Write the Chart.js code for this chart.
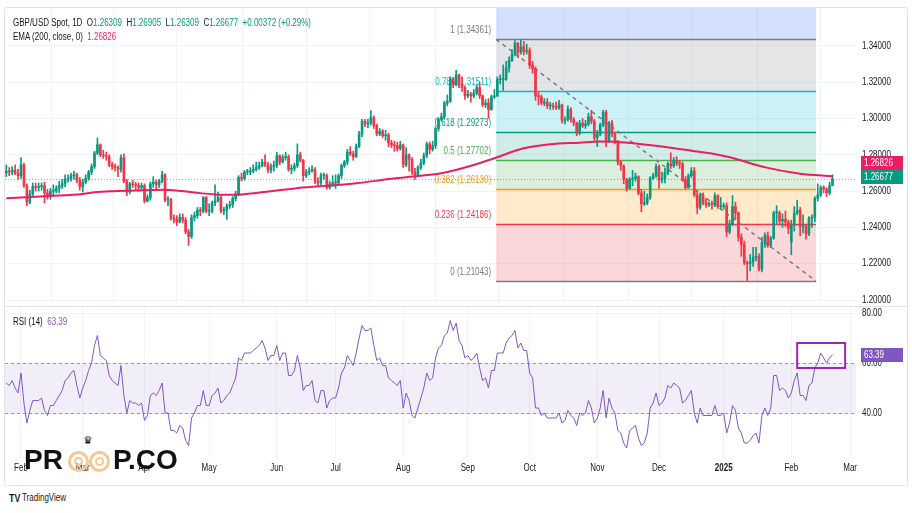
<!DOCTYPE html>
<html>
<head>
<meta charset="utf-8">
<script src="https://cdn.jsdelivr.net/npm/chart.js@4.4.1/dist/chart.umd.min.js"></script>
<style>
  body { margin: 0; width: 912px; height: 513px; overflow: hidden; position: relative; background: #fff;
         font-family: 'Liberation Sans', Arial, sans-serif; color: #131722; }
  canvas { position: absolute; left: 0; }
  #main { top: 0; }
  #rsi { top: 306px; }
  .txt { position: absolute; font-size: 10px; line-height: 12px; white-space: pre; transform: scaleX(0.8); transform-origin: 0 0; }
  .g { color: #089981; }
  .p { color: #e91e63; }
  .v { color: #7e57c2; }
  #frame { position: absolute; left: 4px; top: 7px; width: 902px; height: 477px; border: 1px solid #e0e3eb; border-radius: 3px; pointer-events: none; }
  .logo { position: absolute; top: 446px; font: bold 28px 'Liberation Sans', sans-serif; line-height: 28px; color: #111; }
  .eye { position: absolute; top: 451px; width: 15px; height: 15px; border: 3px solid #f3c98f; border-radius: 50%; }
  .eye::after { content: ''; position: absolute; left: 3px; top: 3px; width: 5px; height: 5px; border: 2px solid #f3c98f; border-radius: 50%; }
</style>
</head>
<body>
<canvas id="main" width="912" height="306"></canvas>
<canvas id="rsi" width="912" height="180"></canvas>
<div id="frame"></div>

<div class="txt" style="left:13px;top:17px">GBP/USD Spot, 1D  O<span class="g">1.26309</span>  H<span class="g">1.26905</span>  L<span class="g">1.26309</span>  C<span class="g">1.26677</span>  <span class="g">+0.00372 (+0.29%)</span></div>
<div class="txt" style="left:13px;top:31px">EMA (200, close, 0)  <span class="p">1.26826</span></div>
<div class="txt" style="left:13px;top:316px">RSI (14)  <span class="v">63.39</span></div>

<div class="logo" style="left:24px">PR</div>
<div class="eye" style="left:68px"></div>
<div class="eye" style="left:89px"></div>
<div class="txt" style="left:83px;top:434px;font-size:11px;color:#111;transform:none">♛</div>
<div class="logo" style="left:113px">P.CO</div>

<div class="txt" style="left:9px;top:492px;font-weight:bold;font-size:11px">TV</div>
<div class="txt" style="left:22px;top:492px">TradingView</div>

<script>
const FONT = "'Liberation Sans', Arial, sans-serif";
const SX = 0.8; // the reference text is horizontally narrow

// bar index 0 = 1 Feb 2024, one step per trading day; first bar is 25 Jan 2024
const firstBar = -5;

const opens = [
  1.2700, 1.2710, 1.2705, 1.2715, 1.2700,
  1.2685, 1.2745, 1.2630, 1.2540, 1.2585, 1.2625, 1.2620, 1.2625, 1.2630, 1.2590, 1.2570, 1.2600, 1.2600, 1.2615, 1.2630, 1.2640, 1.2665, 1.2670, 1.2685, 1.2690, 1.2660,
  1.2625, 1.2650, 1.2670, 1.2705, 1.2735, 1.2810, 1.2855, 1.2800, 1.2795, 1.2790, 1.2745, 1.2735, 1.2730, 1.2720, 1.2785, 1.2655, 1.2595, 1.2640, 1.2635, 1.2630, 1.2620,
  1.2630, 1.2545, 1.2565, 1.2640, 1.2650, 1.2635, 1.2655, 1.2690, 1.2550, 1.2555, 1.2450, 1.2445, 1.2430, 1.2455, 1.2440, 1.2375, 1.2350, 1.2455, 1.2465, 1.2495, 1.2490, 1.2565,
  1.2490, 1.2490, 1.2535, 1.2545, 1.2565, 1.2490, 1.2495, 1.2520, 1.2525, 1.2560, 1.2585, 1.2675, 1.2670, 1.2705, 1.2705, 1.2710, 1.2720, 1.2730, 1.2740, 1.2760, 1.2745, 1.2715, 1.2735,
  1.2740, 1.2795, 1.2760, 1.2785, 1.2790, 1.2720, 1.2725, 1.2740, 1.2800, 1.2770, 1.2685, 1.2705, 1.2710, 1.2720, 1.2655, 1.2645, 1.2685, 1.2685, 1.2620, 1.2640,
  1.2645, 1.2645, 1.2685, 1.2740, 1.2760, 1.2815, 1.2805, 1.2790, 1.2845, 1.2915, 1.2985, 1.2970, 1.2975, 1.3005, 1.2960, 1.2915, 1.2930, 1.2905, 1.2910, 1.2865, 1.2855, 1.2850, 1.2835,
  1.2855, 1.2745, 1.2800, 1.2775, 1.2705, 1.2690, 1.2730, 1.2755, 1.2795, 1.2860, 1.2830, 1.2850, 1.2945, 1.2995, 1.3010, 1.3085, 1.3095, 1.3215, 1.3185, 1.3240, 1.3185, 1.3170,
  1.3125, 1.3135, 1.3125, 1.3140, 1.3170, 1.3125, 1.3075, 1.3085, 1.3050, 1.3120, 1.3125, 1.3215, 1.3215, 1.3215, 1.3280, 1.3320, 1.3355, 1.3415, 1.3365, 1.3395, 1.3370,
  1.3375, 1.3295, 1.3275, 1.3125, 1.3120, 1.3085, 1.3090, 1.3070, 1.3070, 1.3065, 1.3060, 1.3075, 1.2990, 1.2995, 1.3050, 1.2995, 1.2975, 1.2920, 1.2975, 1.2960, 1.2970, 1.3010, 1.2985,
  1.2895, 1.2915, 1.2965, 1.3035, 1.2880, 1.2975, 1.2915, 1.2875, 1.2760, 1.2740, 1.2665, 1.2615, 1.2665, 1.2670, 1.2680, 1.2590, 1.2530, 1.2535, 1.2565, 1.2670, 1.2685,
  1.2735, 1.2660, 1.2670, 1.2700, 1.2750, 1.2740, 1.2770, 1.2755, 1.2750, 1.2665, 1.2620, 1.2685, 1.2710, 1.2580, 1.2510, 1.2575, 1.2535, 1.2525, 1.2530, 1.2525, 1.2575, 1.2515,
  1.2515, 1.2520, 1.2375, 1.2420, 1.2515, 1.2480, 1.2345, 1.2305, 1.2205, 1.2200, 1.2210, 1.2235, 1.2240, 1.2170, 1.2315, 1.2355, 1.2300, 1.2340, 1.2480, 1.2480, 1.2435, 1.2445, 1.2430,
  1.2320, 1.2410, 1.2480, 1.2495, 1.2405, 1.2405, 1.2365, 1.2450, 1.2455, 1.2560, 1.2580, 1.2620, 1.2610, 1.2590, 1.26309
];
const highs = [
  1.2745, 1.2730, 1.2735, 1.2745, 1.2720,
  1.2785, 1.2755, 1.2640, 1.2605, 1.2645, 1.2645, 1.2645, 1.2645, 1.2650, 1.2610, 1.2615, 1.2635, 1.2630, 1.2655, 1.2665, 1.2690, 1.2690, 1.2700, 1.2710, 1.2700, 1.2675,
  1.2665, 1.2690, 1.2715, 1.2750, 1.2820, 1.2893, 1.2860, 1.2825, 1.2815, 1.2800, 1.2760, 1.2750, 1.2740, 1.2800, 1.2805, 1.2665, 1.2650, 1.2660, 1.2650, 1.2645, 1.2645,
  1.2640, 1.2580, 1.2650, 1.2680, 1.2660, 1.2665, 1.2709, 1.2695, 1.2570, 1.2560, 1.2470, 1.2465, 1.2475, 1.2475, 1.2455, 1.2390, 1.2470, 1.2485, 1.2510, 1.2510, 1.2570, 1.2570,
  1.2530, 1.2545, 1.2634, 1.2595, 1.2575, 1.2510, 1.2530, 1.2545, 1.2570, 1.2600, 1.2685, 1.2700, 1.2715, 1.2720, 1.2730, 1.2745, 1.2760, 1.2760, 1.2775, 1.2800, 1.2760, 1.2750, 1.2765,
  1.2815, 1.2800, 1.2800, 1.2815, 1.2800, 1.2745, 1.2755, 1.2860, 1.2815, 1.2775, 1.2720, 1.2730, 1.2740, 1.2730, 1.2675, 1.2700, 1.2700, 1.2695, 1.2655, 1.2685,
  1.2690, 1.2695, 1.2750, 1.2770, 1.2830, 1.2845, 1.2820, 1.2860, 1.2930, 1.2995, 1.2995, 1.2995, 1.3044, 1.3015, 1.2970, 1.2945, 1.2940, 1.2935, 1.2920, 1.2880, 1.2875, 1.2870, 1.2875,
  1.2860, 1.2840, 1.2805, 1.2785, 1.2725, 1.2740, 1.2775, 1.2810, 1.2870, 1.2870, 1.2875, 1.2955, 1.3005, 1.3030, 1.3095, 1.3130, 1.3230, 1.3225, 1.3266, 1.3245, 1.3230, 1.3180,
  1.3155, 1.3145, 1.3160, 1.3185, 1.3200, 1.3130, 1.3105, 1.3110, 1.3130, 1.3160, 1.3230, 1.3240, 1.3295, 1.3315, 1.3340, 1.3380, 1.3430, 1.3420, 1.3436, 1.3425, 1.3410,
  1.3390, 1.3315, 1.3285, 1.3145, 1.3130, 1.3110, 1.3110, 1.3090, 1.3085, 1.3090, 1.3100, 1.3080, 1.3010, 1.3070, 1.3060, 1.3005, 1.2980, 1.2990, 1.3000, 1.2990, 1.3030, 1.3045, 1.2995,
  1.2935, 1.2975, 1.3045, 1.3045, 1.2985, 1.2990, 1.2925, 1.2880, 1.2770, 1.2745, 1.2670, 1.2675, 1.2715, 1.2700, 1.2685, 1.2610, 1.2600, 1.2585, 1.2680, 1.2700, 1.2750,
  1.2745, 1.2705, 1.2725, 1.2760, 1.2811, 1.2785, 1.2790, 1.2770, 1.2760, 1.2680, 1.2695, 1.2730, 1.2730, 1.2605, 1.2590, 1.2590, 1.2560, 1.2540, 1.2545, 1.2590, 1.2580, 1.2565,
  1.2535, 1.2535, 1.2440, 1.2575, 1.2540, 1.2485, 1.2365, 1.2325, 1.2215, 1.2250, 1.2290, 1.2290, 1.2255, 1.2345, 1.2370, 1.2375, 1.2350, 1.2490, 1.2520, 1.2490, 1.2475, 1.2490, 1.2440,
  1.2440, 1.2515, 1.2550, 1.2510, 1.2470, 1.2415, 1.2460, 1.2470, 1.2570, 1.2640, 1.2630, 1.2630, 1.2620, 1.2650, 1.26905
];
const lows = [
  1.2680, 1.2685, 1.2690, 1.2690, 1.2665,
  1.2670, 1.2620, 1.2520, 1.2530, 1.2575, 1.2600, 1.2600, 1.2605, 1.2535, 1.2555, 1.2555, 1.2580, 1.2590, 1.2590, 1.2615, 1.2625, 1.2650, 1.2655, 1.2665, 1.2645, 1.2605,
  1.2595, 1.2640, 1.2660, 1.2690, 1.2725, 1.2800, 1.2790, 1.2780, 1.2770, 1.2735, 1.2720, 1.2710, 1.2680, 1.2705, 1.2645, 1.2575, 1.2585, 1.2620, 1.2605, 1.2600, 1.2610,
  1.2535, 1.2540, 1.2550, 1.2620, 1.2610, 1.2620, 1.2645, 1.2540, 1.2520, 1.2440, 1.2425, 1.2410, 1.2425, 1.2425, 1.2365, 1.2300, 1.2340, 1.2435, 1.2450, 1.2465, 1.2480, 1.2480,
  1.2465, 1.2480, 1.2520, 1.2540, 1.2480, 1.2470, 1.2445, 1.2505, 1.2510, 1.2545, 1.2575, 1.2655, 1.2660, 1.2690, 1.2690, 1.2700, 1.2710, 1.2720, 1.2735, 1.2735, 1.2700, 1.2700, 1.2710,
  1.2730, 1.2745, 1.2755, 1.2770, 1.2710, 1.2695, 1.2710, 1.2730, 1.2760, 1.2655, 1.2675, 1.2690, 1.2705, 1.2640, 1.2625, 1.2635, 1.2665, 1.2610, 1.2610, 1.2625,
  1.2615, 1.2635, 1.2670, 1.2730, 1.2745, 1.2795, 1.2770, 1.2785, 1.2840, 1.2900, 1.2955, 1.2950, 1.2965, 1.2945, 1.2905, 1.2905, 1.2895, 1.2880, 1.2845, 1.2840, 1.2820, 1.2820, 1.2825,
  1.2730, 1.2735, 1.2710, 1.2690, 1.2665, 1.2680, 1.2720, 1.2745, 1.2785, 1.2805, 1.2820, 1.2835, 1.2930, 1.2985, 1.3000, 1.3070, 1.3090, 1.3170, 1.3180, 1.3170, 1.3150, 1.3105,
  1.3115, 1.3090, 1.3115, 1.3130, 1.3110, 1.3065, 1.3060, 1.3002, 1.3045, 1.3110, 1.3120, 1.3190, 1.3155, 1.3210, 1.3255, 1.3315, 1.3345, 1.3335, 1.3355, 1.3350, 1.3355,
  1.3275, 1.3250, 1.3100, 1.3075, 1.3075, 1.3070, 1.3055, 1.3050, 1.3050, 1.3050, 1.3050, 1.2975, 1.2970, 1.2985, 1.2980, 1.2960, 1.2905, 1.2910, 1.2950, 1.2945, 1.2960, 1.2970, 1.2880,
  1.2845, 1.2905, 1.2955, 1.2845, 1.2870, 1.2900, 1.2860, 1.2745, 1.2715, 1.2640, 1.2600, 1.2610, 1.2630, 1.2655, 1.2580, 1.2487, 1.2520, 1.2525, 1.2555, 1.2665, 1.2675,
  1.2615, 1.2645, 1.2645, 1.2690, 1.2725, 1.2730, 1.2740, 1.2725, 1.2655, 1.2610, 1.2615, 1.2675, 1.2570, 1.2475, 1.2500, 1.2525, 1.2510, 1.2515, 1.2500, 1.2515, 1.2505, 1.2500,
  1.2500, 1.2350, 1.2365, 1.2410, 1.2445, 1.2325, 1.2240, 1.2195, 1.2104, 1.2160, 1.2185, 1.2215, 1.2160, 1.2155, 1.2290, 1.2290, 1.2290, 1.2335, 1.2420, 1.2420, 1.2400, 1.2405, 1.2365,
  1.2249, 1.2380, 1.2470, 1.2355, 1.2370, 1.2335, 1.2355, 1.2400, 1.2430, 1.2545, 1.2570, 1.2590, 1.2570, 1.2580, 1.26309
];
const closes = [
  1.2710, 1.2705, 1.2715, 1.2700, 1.2685,
  1.2745, 1.2630, 1.2540, 1.2585, 1.2625, 1.2620, 1.2625, 1.2630, 1.2590, 1.2570, 1.2600, 1.2600, 1.2615, 1.2630, 1.2640, 1.2665, 1.2670, 1.2685, 1.2690, 1.2660, 1.2625,
  1.2650, 1.2670, 1.2705, 1.2735, 1.2810, 1.2855, 1.2800, 1.2795, 1.2790, 1.2745, 1.2735, 1.2730, 1.2720, 1.2785, 1.2655, 1.2595, 1.2640, 1.2635, 1.2630, 1.2620, 1.2630,
  1.2545, 1.2565, 1.2640, 1.2650, 1.2635, 1.2655, 1.2690, 1.2550, 1.2555, 1.2450, 1.2445, 1.2430, 1.2455, 1.2440, 1.2375, 1.2350, 1.2455, 1.2465, 1.2495, 1.2490, 1.2565, 1.2490,
  1.2490, 1.2535, 1.2545, 1.2565, 1.2490, 1.2495, 1.2520, 1.2525, 1.2560, 1.2585, 1.2675, 1.2670, 1.2705, 1.2705, 1.2710, 1.2720, 1.2730, 1.2740, 1.2760, 1.2745, 1.2715, 1.2735, 1.2740,
  1.2795, 1.2760, 1.2785, 1.2790, 1.2720, 1.2725, 1.2740, 1.2800, 1.2770, 1.2685, 1.2705, 1.2710, 1.2720, 1.2655, 1.2645, 1.2685, 1.2685, 1.2620, 1.2640, 1.2645,
  1.2645, 1.2685, 1.2740, 1.2760, 1.2815, 1.2805, 1.2790, 1.2845, 1.2915, 1.2985, 1.2970, 1.2975, 1.3005, 1.2960, 1.2915, 1.2930, 1.2905, 1.2910, 1.2865, 1.2855, 1.2850, 1.2835, 1.2855,
  1.2745, 1.2800, 1.2775, 1.2705, 1.2690, 1.2730, 1.2755, 1.2795, 1.2860, 1.2830, 1.2850, 1.2945, 1.2995, 1.3010, 1.3085, 1.3095, 1.3215, 1.3185, 1.3240, 1.3185, 1.3170, 1.3125,
  1.3135, 1.3125, 1.3140, 1.3170, 1.3125, 1.3075, 1.3085, 1.3050, 1.3120, 1.3125, 1.3215, 1.3215, 1.3215, 1.3280, 1.3320, 1.3355, 1.3415, 1.3365, 1.3395, 1.3370, 1.3375,
  1.3295, 1.3275, 1.3125, 1.3120, 1.3085, 1.3090, 1.3070, 1.3070, 1.3065, 1.3060, 1.3075, 1.2990, 1.2995, 1.3050, 1.2995, 1.2975, 1.2920, 1.2975, 1.2960, 1.2970, 1.3010, 1.2985, 1.2895,
  1.2915, 1.2965, 1.3035, 1.2880, 1.2975, 1.2915, 1.2875, 1.2760, 1.2740, 1.2665, 1.2615, 1.2665, 1.2670, 1.2680, 1.2590, 1.2530, 1.2535, 1.2565, 1.2670, 1.2685, 1.2735,
  1.2660, 1.2670, 1.2700, 1.2750, 1.2740, 1.2770, 1.2755, 1.2750, 1.2665, 1.2620, 1.2685, 1.2710, 1.2580, 1.2510, 1.2575, 1.2535, 1.2525, 1.2530, 1.2525, 1.2575, 1.2515, 1.2515,
  1.2520, 1.2375, 1.2420, 1.2515, 1.2480, 1.2345, 1.2305, 1.2205, 1.2200, 1.2210, 1.2235, 1.2240, 1.2170, 1.2315, 1.2355, 1.2300, 1.2340, 1.2480, 1.2480, 1.2435, 1.2445, 1.2430, 1.2395,
  1.2410, 1.2480, 1.2495, 1.2405, 1.2405, 1.2365, 1.2450, 1.2455, 1.2560, 1.2580, 1.2620, 1.2610, 1.2590, 1.26305, 1.26677
];

// EMA(200) at a few bars
const emaIdx = [-5, 10, 21, 26, 36, 49, 59, 66, 73, 80, 93, 103, 114, 126, 135, 143, 154, 161, 171, 180, 190, 197, 203, 216, 228, 238, 242, 254, 265, 276];
const emaVal = [1.2561, 1.2573, 1.2584, 1.2595, 1.2602, 1.2608, 1.2592, 1.2582, 1.2580, 1.2590, 1.2615, 1.2628, 1.2643, 1.2668, 1.2683, 1.2698, 1.2744, 1.2781, 1.2836, 1.2858, 1.2867, 1.2873, 1.2871, 1.2850, 1.2823, 1.2798, 1.2782, 1.2728, 1.2696, 1.26826];

const rsi = [
  52, 51, 53, 50, 48,
  56, 44, 36, 41, 45, 45, 45, 46, 41, 39, 43, 43, 45, 47, 49, 53, 54, 56, 57, 51, 46,
  50, 53, 57, 60, 67, 71, 63, 62, 61, 55, 53, 52, 51, 59, 47, 40, 45, 44, 44, 43, 44,
  37, 39, 47, 48, 47, 49, 52, 40, 40, 33, 33, 32, 35, 34, 29, 27, 38, 40, 43, 43, 49, 43,
  43, 47, 48, 50, 44, 45, 47, 48, 51, 54, 62, 61, 64, 64, 64, 65, 66, 67, 69, 66, 61, 63, 63,
  67, 61, 64, 64, 55, 55, 57, 63, 58, 49, 51, 51, 53, 45, 44, 49, 49, 42, 45, 46,
  46, 50, 56, 58, 63, 61, 59, 64, 70, 75, 73, 73, 74, 67, 61, 62, 59, 59, 54, 53, 52, 51, 53,
  42, 48, 45, 39, 38, 42, 46, 50, 56, 53, 54, 62, 66, 67, 71, 72, 77, 73, 76, 69, 67, 62,
  63, 61, 62, 64, 58, 53, 54, 50, 57, 57, 64, 64, 64, 68, 70, 71, 73, 66, 68, 65, 65,
  56, 54, 42, 42, 39, 40, 38, 38, 38, 38, 40, 36, 37, 41, 39, 38, 35, 40, 39, 40, 45, 42, 36,
  38, 42, 49, 38, 46, 42, 40, 33, 32, 28, 26, 33, 34, 35, 30, 27, 28, 32, 42, 44, 48,
  43, 44, 46, 51, 50, 52, 51, 50, 44, 45, 47, 49, 40, 36, 42, 39, 39, 39, 39, 43, 39, 39,
  40, 32, 36, 43, 41, 34, 32, 28, 28, 29, 31, 32, 28, 39, 42, 39, 42, 55, 55, 49, 50, 49, 46,
  48, 53, 56, 47, 47, 45, 51, 52, 58, 60, 64, 62, 60, 62, 63.39
];

// fibonacci retracement drawing
const fibLevels = [0, 0.236, 0.382, 0.5, 0.618, 0.786, 1];
const fibPrices = [1.21043, 1.24186, 1.26130, 1.27702, 1.29273, 1.31511, 1.34361];
const fibStart = 161.6, fibEnd = 270.4;
const fibLine = ['#787b86', '#f23645', '#ff9800', '#4caf50', '#089981', '#00bcd4', '#787b86'];
const fibFill = ['rgba(242,54,69,0.2)', 'rgba(255,152,0,0.2)', 'rgba(76,175,80,0.2)', 'rgba(8,153,129,0.18)',
                 'rgba(0,188,212,0.2)', 'rgba(120,123,134,0.2)', 'rgba(41,98,255,0.2)'];

// rsi box drawing
const rsiBox = { x0: 264, x1: 280.3, lo: 58, hi: 68 };
const rsiBands = [60, 40];

const monthIdx = [0, 21, 42, 64, 87, 107, 130, 152, 173, 196, 217, 239, 262, 282];
const monthLabels = ['Feb', 'Mar', 'Apr', 'May', 'Jun', 'Jul', 'Aug', 'Sep', 'Oct', 'Nov', 'Dec', '2025', 'Feb', 'Mar'];
const priceTicks = [1.20, 1.22, 1.24, 1.26, 1.28, 1.30, 1.32, 1.34];
const rsiTicks = [40, 60, 80];

const UP = '#089981', DOWN = '#f23645', EMA_C = '#e91e63', RSI_C = '#7e57c2';
const GRID = '#f0f3fa';
const xMin = -5.44, xMax = 284.0;

Chart.defaults.font.family = FONT;
Chart.defaults.font.size = 10;
Chart.defaults.animation = false;

const bars = closes.map((_, k) => firstBar + k);
const candleColor = c => closes[c.dataIndex] >= opens[c.dataIndex] ? UP : DOWN;

// narrow text, the way the reference renders it
function say(ctx, text, x, y, color, align, bold) {
  ctx.save();
  ctx.translate(x, y);
  ctx.scale(SX, 1);
  ctx.font = (bold ? 'bold ' : '') + '10px ' + FONT;
  ctx.fillStyle = color;
  ctx.textAlign = align;
  ctx.textBaseline = 'middle';
  ctx.fillText(text, 0, 0);
  ctx.restore();
}

function priceBox(ctx, x, cy, text, color) {
  ctx.fillStyle = color;
  ctx.fillRect(x, cy - 7, 42, 14);
  say(ctx, text, x + 3, cy, '#fff', 'left');
}

function noPad(s) { s.paddingTop = 0; s.paddingBottom = 0; s.paddingLeft = 0; s.paddingRight = 0; }

function timeScale(labels) {
  return {
    type: 'linear', min: xMin, max: xMax, offset: false,
    afterBuildTicks: s => { s.ticks = monthIdx.map(v => ({ value: v })); },
    grid: { color: GRID, drawTicks: false },
    border: { display: false },
    ticks: { display: false },
    afterFit: s => { s.height = labels ? 28 : 0; noPad(s); }
  };
}

function valueScale(min, max, ticks) {
  return {
    position: 'right', min, max,
    afterBuildTicks: s => { s.ticks = ticks.map(v => ({ value: v })); },
    ticks: { display: false },
    grid: { color: GRID, drawTicks: false },
    border: { display: false },
    afterFit: s => { s.width = 56; noPad(s); }
  };
}

const fibPlugin = {
  id: 'fib',
  beforeDatasetsDraw(chart) {
    const { ctx, chartArea: a, scales: { x, y } } = chart;
    const x0 = x.getPixelForValue(fibStart), x1 = x.getPixelForValue(fibEnd);
    const ys = fibPrices.map(p => Math.round(y.getPixelForValue(p)) + 0.5);
    ctx.save();
    ctx.beginPath();
    ctx.rect(a.left, a.top, a.right - a.left, a.bottom - a.top);
    ctx.clip();
    ctx.fillStyle = fibFill[6];
    ctx.fillRect(x0, a.top, x1 - x0, ys[6] - a.top);
    for (let k = 0; k < 6; k++) {
      ctx.fillStyle = fibFill[k];
      ctx.fillRect(x0, ys[k + 1], x1 - x0, ys[k] - ys[k + 1]);
    }
    ctx.lineWidth = 1.5;
    fibPrices.forEach((p, k) => {
      ctx.strokeStyle = fibLine[k];
      ctx.beginPath();
      ctx.moveTo(x0, ys[k]);
      ctx.lineTo(x1, ys[k]);
      ctx.stroke();
      say(ctx, `${fibLevels[k]} (${p.toFixed(5)})`, x0 - 5, ys[k] - 9, fibLine[k], 'right');
    });
    // last price line
    const ly = Math.round(y.getPixelForValue(closes[closes.length - 1])) + 0.5;
    ctx.strokeStyle = 'rgba(8,153,129,0.6)';
    ctx.lineWidth = 1;
    ctx.setLineDash([1, 2]);
    ctx.beginPath();
    ctx.moveTo(a.left, ly);
    ctx.lineTo(a.right, ly);
    ctx.stroke();
    ctx.restore();
  },
  afterDraw(chart) {
    const { ctx, chartArea: a, scales: { y } } = chart;
    priceTicks.forEach(v => say(ctx, v.toFixed(5), a.right + 6, y.getPixelForValue(v), '#131722', 'left'));
    const ly = Math.round(y.getPixelForValue(closes[closes.length - 1])) - 2;
    priceBox(ctx, a.right + 5, ly - 14, emaVal[emaVal.length - 1].toFixed(5), EMA_C);
    priceBox(ctx, a.right + 5, ly, closes[closes.length - 1].toFixed(5), UP);
  }
};

new Chart(document.getElementById('main'), {
  type: 'bar',
  data: {
    datasets: [
      { type: 'line', data: emaIdx.map((v, k) => ({ x: v, y: emaVal[k] })), borderColor: EMA_C, borderWidth: 2,
        pointRadius: 0, cubicInterpolationMode: 'monotone', order: 0 },
      { type: 'bar', data: bars.map((v, k) => ({ x: v, y: [opens[k], closes[k]] })), backgroundColor: candleColor,
        barThickness: 2, minBarLength: 1, grouped: false, order: 1 },
      { type: 'bar', data: bars.map((v, k) => ({ x: v, y: [lows[k], highs[k]] })), backgroundColor: candleColor,
        barThickness: 1, grouped: false, order: 2 },
      { type: 'line', data: [{ x: fibStart, y: fibPrices[6] }, { x: fibEnd, y: fibPrices[0] }], borderColor: '#787b86',
        borderWidth: 1.5, borderDash: [4, 4], pointRadius: 0, order: 3 }
    ]
  },
  options: {
    responsive: false,
    layout: { padding: { left: 5, top: 8, right: 0, bottom: 0 } },
    plugins: { legend: { display: false }, tooltip: { enabled: false } },
    scales: { x: timeScale(false), y: valueScale(1.1967, 1.3609, priceTicks) }
  },
  plugins: [fibPlugin]
});

const rsiPlugin = {
  id: 'rsiDecor',
  beforeDatasetsDraw(chart) {
    const { ctx, chartArea: a, scales: { y } } = chart;
    const yHi = Math.round(y.getPixelForValue(rsiBands[0])) + 0.5;
    const yLo = Math.round(y.getPixelForValue(rsiBands[1])) + 0.5;
    ctx.save();
    ctx.fillStyle = 'rgba(126,87,194,0.1)';
    ctx.fillRect(a.left, yHi, a.right - a.left, yLo - yHi);
    ctx.strokeStyle = '#9598a1';
    ctx.lineWidth = 1;
    ctx.setLineDash([3, 3]);
    [yHi, yLo].forEach(v => { ctx.beginPath(); ctx.moveTo(a.left, v); ctx.lineTo(a.right, v); ctx.stroke(); });
    ctx.setLineDash([]);
    ctx.strokeStyle = '#e0e3eb';
    ctx.beginPath(); ctx.moveTo(4, 0.5); ctx.lineTo(907, 0.5); ctx.stroke();
    ctx.restore();
  },
  afterDatasetsDraw(chart) {
    const { ctx, scales: { x, y } } = chart;
    const bx0 = x.getPixelForValue(rsiBox.x0), bx1 = x.getPixelForValue(rsiBox.x1);
    const by0 = y.getPixelForValue(rsiBox.hi), by1 = y.getPixelForValue(rsiBox.lo);
    ctx.save();
    ctx.strokeStyle = '#9c27b0';
    ctx.lineWidth = 2;
    ctx.strokeRect(bx0, by0, bx1 - bx0, by1 - by0);
    ctx.restore();
  },
  afterDraw(chart) {
    const { ctx, chartArea: a, scales: { x, y } } = chart;
    rsiTicks.forEach(v => say(ctx, v.toFixed(2), a.right + 6, y.getPixelForValue(v), '#131722', 'left'));
    monthIdx.forEach((v, k) => say(ctx, monthLabels[k], x.getPixelForValue(v), a.bottom + 10, '#131722', 'center', monthLabels[k] === '2025'));
    const last = rsi[rsi.length - 1];
    priceBox(ctx, a.right + 5, Math.round(y.getPixelForValue(last)), last.toFixed(2), RSI_C);
  }
};

new Chart(document.getElementById('rsi'), {
  type: 'line',
  data: {
    datasets: [{ data: bars.map((v, k) => ({ x: v, y: rsi[k] })), borderColor: RSI_C, borderWidth: 1, pointRadius: 0 }]
  },
  options: {
    responsive: false,
    layout: { padding: { left: 5, top: 1, right: 0, bottom: 0 } },
    plugins: { legend: { display: false }, tooltip: { enabled: false } },
    scales: { x: timeScale(true), y: valueScale(22, 82.4, rsiTicks) }
  },
  plugins: [rsiPlugin]
});
</script>
</body>
</html>
